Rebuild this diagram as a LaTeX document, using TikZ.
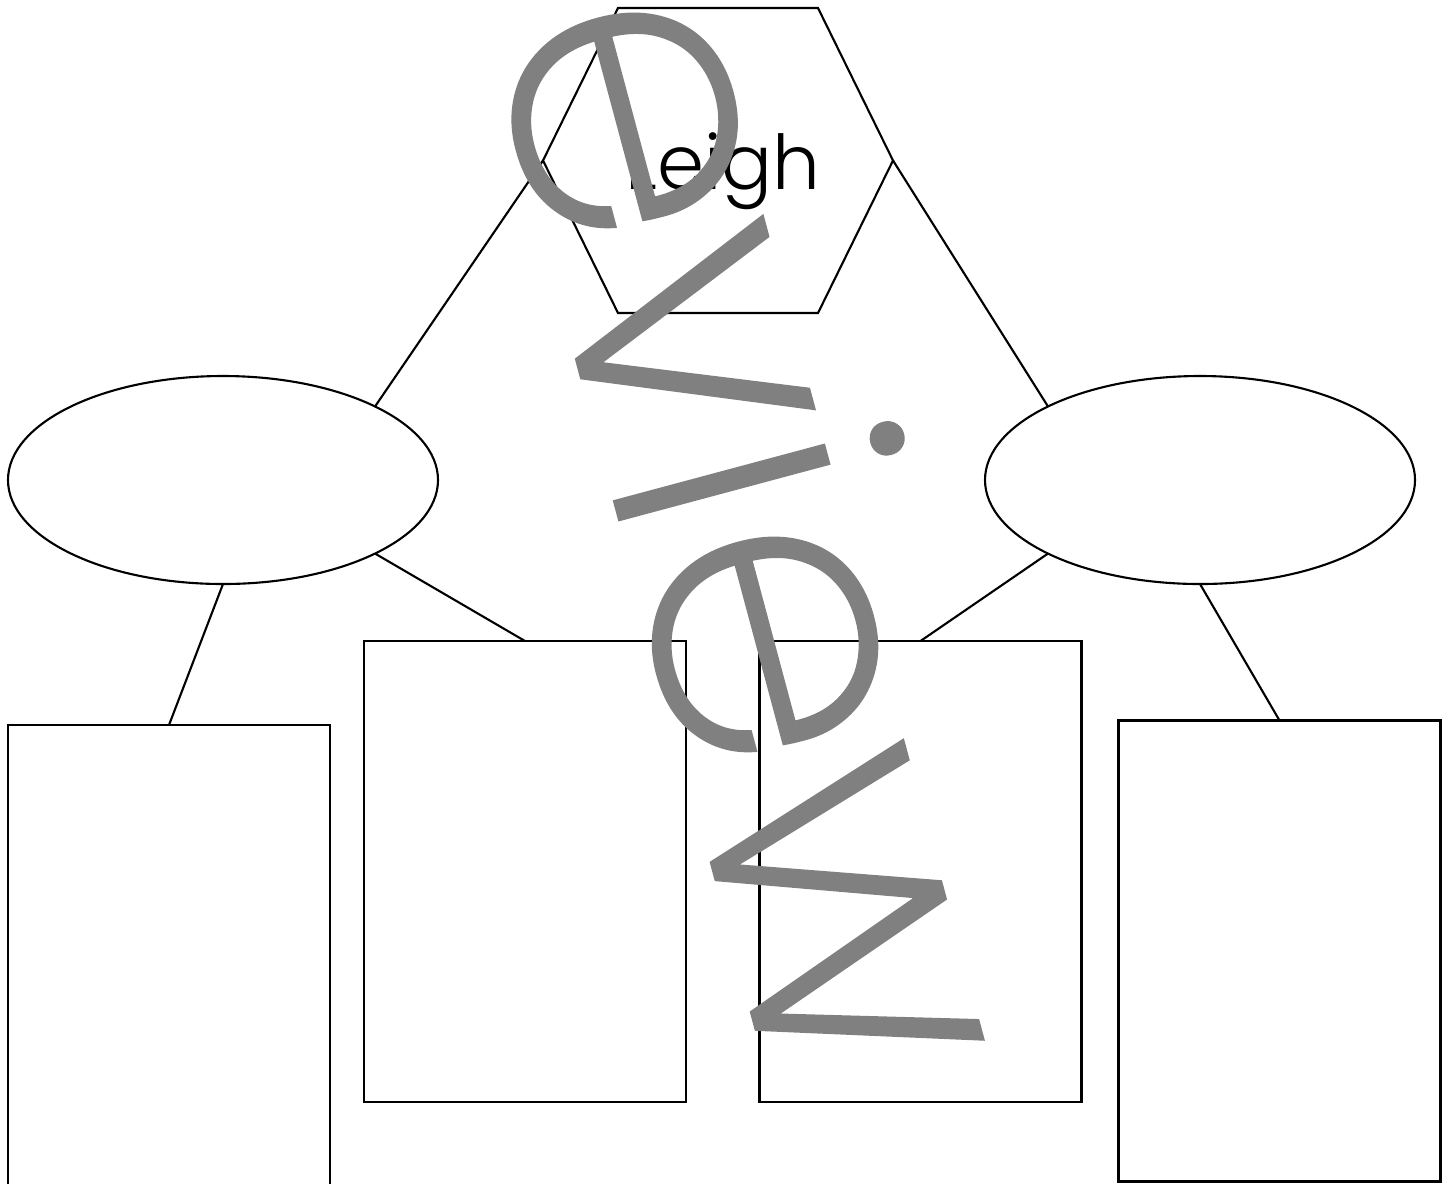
\documentclass[tikz,border=0pt]{standalone}
\usepackage{fontspec}
\setmainfont{Poppins}
\IfFontExistsTF{Poppins ExtraLight}{\newfontfamily\wmfont[FakeBold=1]{Poppins ExtraLight}}{%
  \IfFontExistsTF{Poppins Light}{\newfontfamily\wmfont{Poppins Light}}{\newfontfamily\wmfont{Poppins}}}
\IfFontExistsTF{Poppins Light}{\newfontfamily\labfont{Poppins Light}}{\newfontfamily\labfont{Poppins}}
\usetikzlibrary{shapes.geometric,positioning}

\begin{document}
\begin{tikzpicture}[
    label text/.style={inner sep=0pt, font=\labfont\fontsize{21.5}{25}\selectfont},
    topic/.style={ellipse, draw, minimum width=4.3cm, minimum height=2.08cm, inner sep=0pt, outer sep=0pt},
    detail/.style={rectangle, draw, minimum width=3.22cm, minimum height=4.61cm, inner sep=0pt, outer sep=0pt},
    wmark/.style={text=gray, inner sep=0pt, rotate=-75, font=\wmfont\fontsize{113}{113}\selectfont},
    line width=0.6pt
]
\useasboundingbox (0,0) rectangle (14.5,-11.83);

% main topic (hexagon)
\coordinate (hexc) at (7.18,-1.605);
\draw (hexc) ++(-1.75,0) coordinate (hexW) -- ++(0.75,1.525) -- ++(2.0,0)
    -- ++(0.75,-1.525) coordinate (hexE) -- ++(-0.75,-1.525) -- ++(-2.0,0) -- cycle;
\node[label text] (leigh) at (7.23,-1.715) {Leigh};

% sub topics
\node[topic] (left) at (2.23,-4.80) {};
\node[topic] (right) at (12.00,-4.80) {};

% detail boxes
\node[detail] (box1) at (1.69,-9.555) {};
\node[detail] (box2) at (5.25,-8.715) {};
\node[detail] (box3) at (9.205,-8.715) {};
\node[detail] (box4) at (12.795,-9.51) {};

% connections
\draw (hexW) -- (left.north east);
\draw (hexE) -- (right.north west);
\draw (left.south) -- (box1.north);
\draw (left.south east) -- (box2.north);
\draw (right.south west) -- (box3.north);
\draw (right.south) -- (box4.north);

% watermark
\node[wmark, anchor=base east] (wm) at (7.76,-11.02) {Preview};

\end{tikzpicture}
\end{document}
